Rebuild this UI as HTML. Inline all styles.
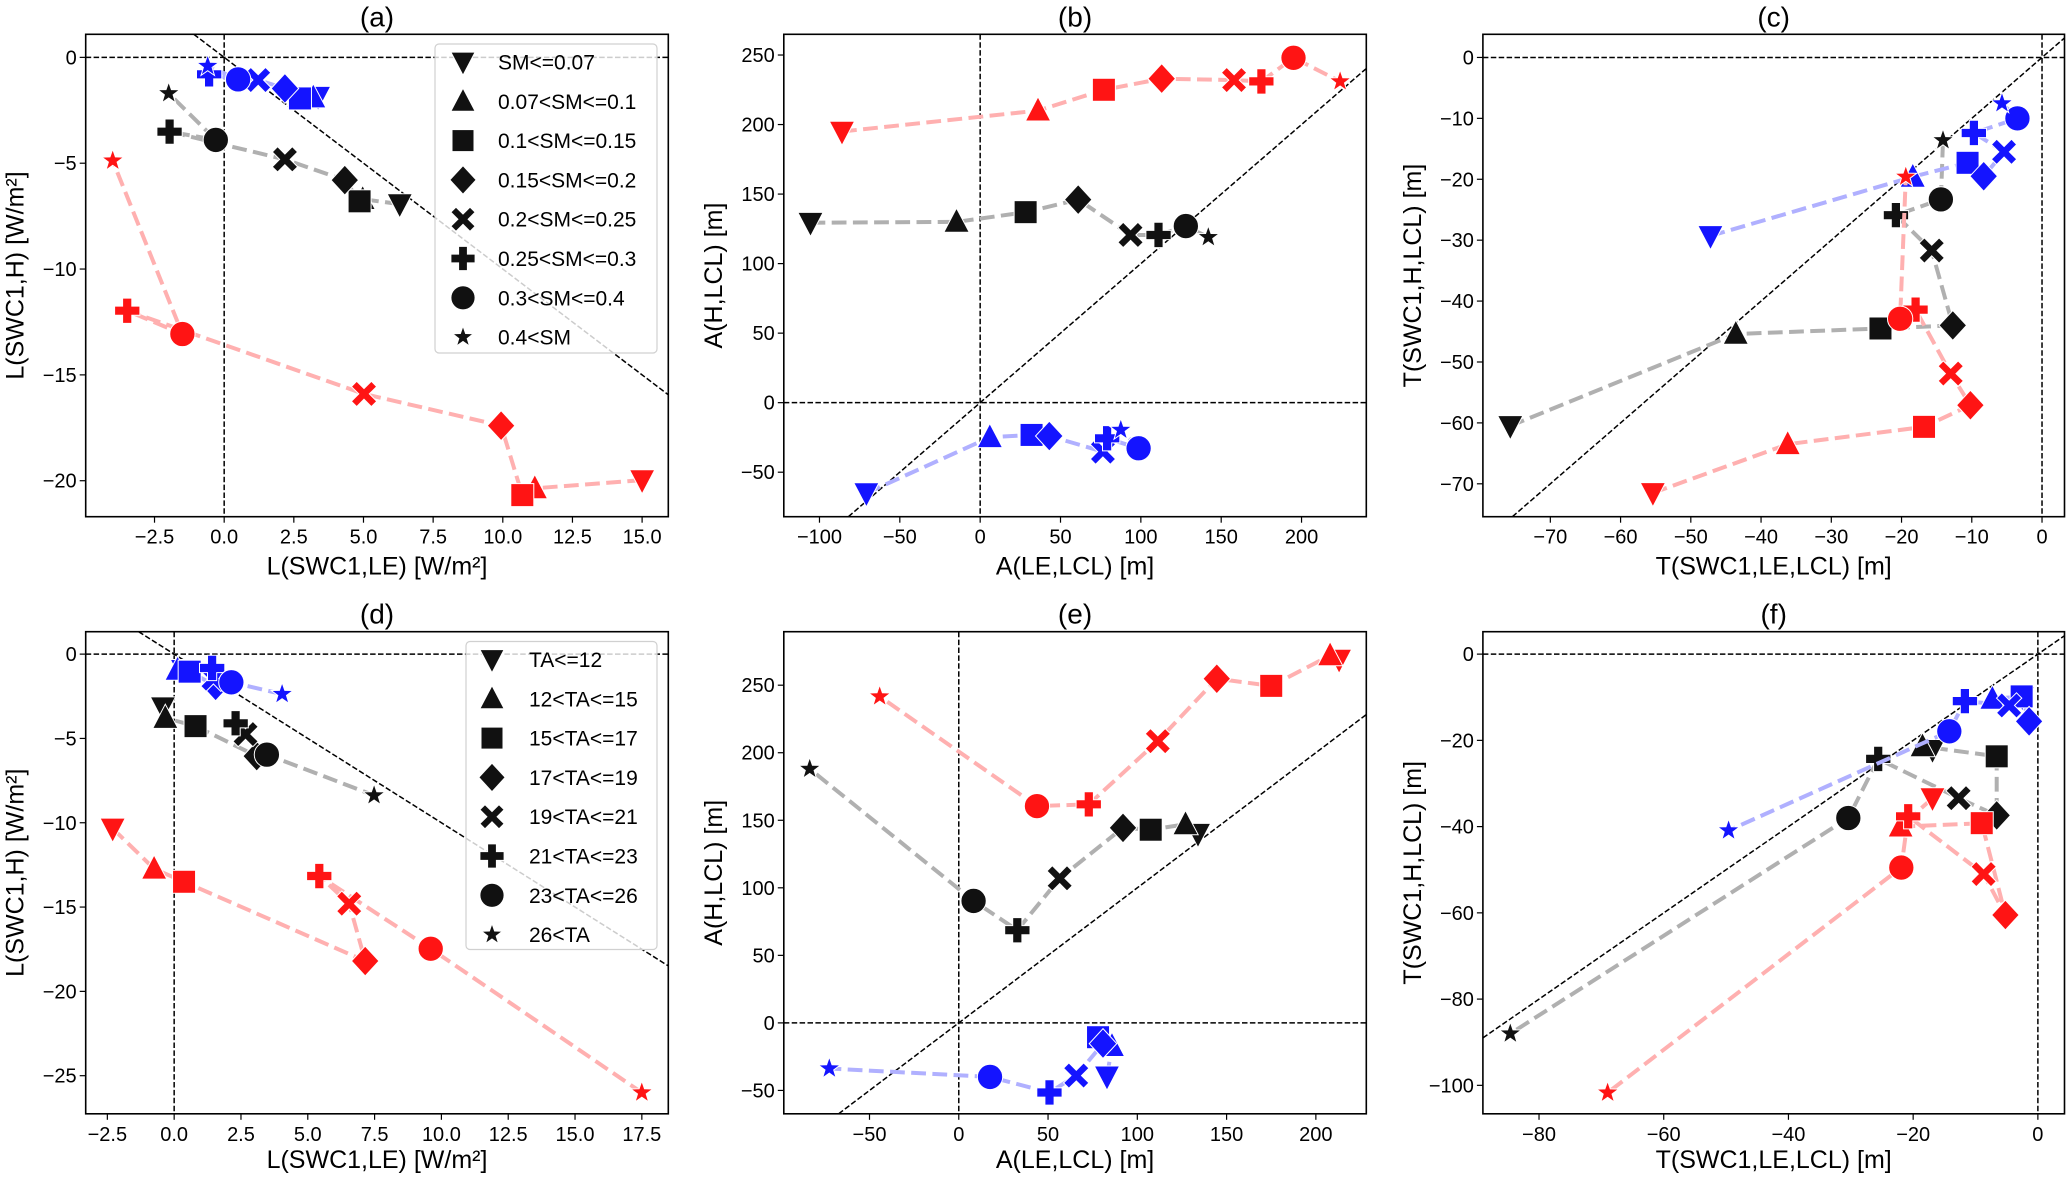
<!DOCTYPE html>
<html><head><meta charset="utf-8">
<style>
html,body{margin:0;padding:0;background:#fff;width:2067px;height:1179px;overflow:hidden;}
svg{display:block;font-family:"Liberation Sans","DejaVu Sans",sans-serif;}
</style></head>
<body>
<svg id="fig" width="2067" height="1179" viewBox="0 0 2067 1179" xmlns="http://www.w3.org/2000/svg"></svg>
<script>
// ---------- data ----------
// marker order: v ^ s D X P o *
const markers = ['v','^','s','D','X','P','o','*'];
const smLabels = ['SM<=0.07','0.07<SM<=0.1','0.1<SM<=0.15','0.15<SM<=0.2','0.2<SM<=0.25','0.25<SM<=0.3','0.3<SM<=0.4','0.4<SM'];
const taLabels = ['TA<=12','12<TA<=15','15<TA<=17','17<TA<=19','19<TA<=21','21<TA<=23','23<TA<=26','26<TA'];

const aBlackX=[6.3,4.97,4.86,4.33,2.18,-1.96,-0.3,-1.99];
const aBlackY=[-6.93,-6.7,-6.8,-5.8,-4.82,-3.51,-3.9,-1.7];
const aBlueX=[3.37,3.2,2.72,2.18,1.22,-0.54,0.5,-0.59];
const aBlueY=[-1.86,-1.9,-1.94,-1.47,-1.07,-0.8,-1.04,-0.41];
const aRedX=[15.0,11.15,10.7,9.94,5.02,-3.48,-1.5,-4.0];
const aRedY=[-19.97,-20.36,-20.68,-17.4,-15.9,-11.97,-13.07,-4.88];

const bBlackX=[-105.6,-14.7,28.3,61,93.6,111,128,142];
const bBlackY=[129.4,130,137,146,120.6,120.6,127,119];
const bBlueX=[-70.8,6,32,43,76.4,79,98.6,87.5];
const bBlueY=[-65,-24.9,-23.2,-24,-35.2,-25.6,-32.8,-19.6];
const bRedX=[-86,36,77,113,158,175,195,224];
const bRedY=[195,210,225,233,232,231,248,231];

const cBlackX=[-75.7,-43.6,-23,-12.7,-15.7,-20.8,-14.4,-14.1];
const cBlackY=[-60.5,-45.4,-44.5,-44,-31.7,-25.9,-23.3,-13.6];
const cBlueX=[-47.2,-18.4,-10.6,-8.3,-5.4,-9.7,-3.5,-5.7];
const cBlueY=[-29.3,-19.6,-17.3,-19.5,-15.5,-12.4,-10.0,-7.55];
const cRedX=[-55.4,-36.2,-16.8,-10.2,-13,-18,-20.2,-19.4];
const cRedY=[-71.5,-63.5,-60.65,-57.1,-51.9,-41.4,-42.9,-19.6];

const dBlackX=[-0.42,-0.33,0.8,3.09,2.67,2.3,3.47,7.48];
const dBlackY=[-3.15,-3.79,-4.27,-6.05,-4.74,-4.1,-5.96,-8.38];
const dBlueX=[0.33,0.13,0.58,1.55,1.47,1.42,2.14,4.04];
const dBlueY=[-0.93,-0.93,-1.04,-1.88,-1.46,-0.82,-1.67,-2.37];
const dRedX=[-2.3,-0.75,0.37,7.15,6.55,5.43,9.6,17.5];
const dRedY=[-10.34,-12.73,-13.5,-18.2,-14.8,-13.16,-17.47,-26.0];

const eBlackX=[134,127,107.5,92,56.5,32.8,8.3,-83.5];
const eBlackY=[140,147,143,144.4,107,68.6,90.3,188];
const eBlueX=[83,85.8,78,80.8,65.8,50.8,17.5,-72.5];
const eBlueY=[-39.6,-17.2,-10.6,-15.3,-39,-51.5,-40,-33.8];
const eRedX=[213,208,175,144.5,111.5,72.8,43.8,-44.3];
const eRedY=[269,272,249.5,254.8,208.6,161.8,160.5,241.6];

const fBlackX=[-16.9,-18.5,-6.6,-6.6,-12.7,-25.6,-30.4,-84.6];
const fBlackY=[-22.2,-21.4,-23.7,-37.4,-33.4,-24.3,-38,-88];
const fBlueX=[-2.5,-7.3,-2.6,-1.4,-4.6,-11.7,-14.2,-49.6];
const fBlueY=[-10,-10.4,-9.8,-15.6,-11.9,-10.9,-17.9,-40.9];
const fRedX=[-16.9,-22,-9,-5.2,-8.7,-20.8,-21.9,-69];
const fRedY=[-33.4,-40,-39.2,-60.5,-51,-37.6,-49.5,-101.7];

const aXTicks=[-2.5,0,2.5,5,7.5,10,12.5,15];
const aYTicks=[0,-5,-10,-15,-20];
const bXTicks=[-100,-50,0,50,100,150,200];
const bYTicks=[-50,0,50,100,150,200,250];
const cXTicks=[-70,-60,-50,-40,-30,-20,-10,0];
const cYTicks=[0,-10,-20,-30,-40,-50,-60,-70];
const dXTicks=[-2.5,0,2.5,5,7.5,10,12.5,15,17.5];
const dYTicks=[0,-5,-10,-15,-20,-25];
const eXTicks=[-50,0,50,100,150,200];
const eYTicks=[-50,0,50,100,150,200,250];
const fXTicks=[-80,-60,-40,-20,0];
const fYTicks=[0,-20,-40,-60,-80,-100];

// ---------- layout ----------
const NS='http://www.w3.org/2000/svg';
const svg=document.getElementById('fig');
function el(tag,attrs,parent){const e=document.createElementNS(NS,tag);for(const k in attrs)e.setAttribute(k,attrs[k]);(parent||svg).appendChild(e);return e;}
const COLS=[[85.7,668.3],[783.8,1366.3],[1482.9,2064.5]];
const ROWS=[[34.3,516.7],[631.7,1113.8]];
const fmt1=v=>(v<0?'\u2212':'')+Math.abs(v).toFixed(1);
const fmt0=v=>(v<0?'\u2212':'')+Math.abs(v).toFixed(0);

const panels=[
 {id:'a',c:0,r:0,xlim:[-4.97,15.94],ylim:[-21.7,1.09],xt:aXTicks,yt:aYTicks,xf:fmt1,yf:fmt0,diag:-1,
  xl:'L(SWC1,LE) [W/m\u00b2]',yl:'L(SWC1,H) [W/m\u00b2]',
  s:[[aBlackX,aBlackY,'k'],[aBlueX,aBlueY,'b'],[aRedX,aRedY,'r']],leg:smLabels},
 {id:'b',c:1,r:0,xlim:[-122.2,240.3],ylim:[-82,264.9],xt:bXTicks,yt:bYTicks,xf:fmt0,yf:fmt0,diag:1,
  xl:'A(LE,LCL) [m]',yl:'A(H,LCL) [m]',
  s:[[bBlackX,bBlackY,'k'],[bBlueX,bBlueY,'b'],[bRedX,bRedY,'r']]},
 {id:'c',c:2,r:0,xlim:[-79.6,3.2],ylim:[-75.4,3.8],xt:cXTicks,yt:cYTicks,xf:fmt0,yf:fmt0,diag:1,
  xl:'T(SWC1,LE,LCL) [m]',yl:'T(SWC1,H,LCL) [m]',
  s:[[cBlackX,cBlackY,'k'],[cBlueX,cBlueY,'b'],[cRedX,cRedY,'r']]},
 {id:'d',c:0,r:1,xlim:[-3.31,18.49],ylim:[-27.26,1.33],xt:dXTicks,yt:dYTicks,xf:fmt1,yf:fmt0,diag:-1,
  xl:'L(SWC1,LE) [W/m\u00b2]',yl:'L(SWC1,H) [W/m\u00b2]',
  s:[[dBlackX,dBlackY,'k'],[dBlueX,dBlueY,'b'],[dRedX,dRedY,'r']],leg:taLabels},
 {id:'e',c:1,r:1,xlim:[-98,228.25],ylim:[-67.3,289.6],xt:eXTicks,yt:eYTicks,xf:fmt0,yf:fmt0,diag:1,
  xl:'A(LE,LCL) [m]',yl:'A(H,LCL) [m]',
  s:[[eBlackX,eBlackY,'k'],[eBlueX,eBlueY,'b'],[eRedX,eRedY,'r']]},
 {id:'f',c:2,r:1,xlim:[-89,4.27],ylim:[-106.6,5.2],xt:fXTicks,yt:fYTicks,xf:fmt0,yf:fmt0,diag:1,
  xl:'T(SWC1,LE,LCL) [m]',yl:'T(SWC1,H,LCL) [m]',
  s:[[fBlackX,fBlackY,'k'],[fBlueX,fBlueY,'b'],[fRedX,fRedY,'r']]}
];
const MCOL={k:'#111111',b:'#1414ff',r:'#ff1414'};
const LCOL={k:'#b0b0b0',b:'#b0b0ff',r:'#ffb0b0'};
const GNAME={k:'black',b:'blue',r:'red'};
const MS=1.15;

function drawMarker(g,m,cx,cy,col,sc){
  sc=sc||1;let e;
  const st={fill:col,stroke:'#fff','stroke-width':1};
  const P=pts=>pts.map(p=>(cx+p[0]*sc).toFixed(1)+','+(cy+p[1]*sc).toFixed(1)).join(' ');
  if(m==='v') e=el('polygon',Object.assign({points:P([[-11,-9],[11,-9],[0,12]])},st),g);
  else if(m==='^') e=el('polygon',Object.assign({points:P([[-11,9],[11,9],[0,-12]])},st),g);
  else if(m==='s') e=el('rect',Object.assign({x:cx-10*sc,y:cy-10*sc,width:20*sc,height:20*sc},st),g);
  else if(m==='D') e=el('polygon',Object.assign({points:P([[0,-13],[12,0],[0,13],[-12,0]])},st),g);
  else if(m==='X'){const a=11,t=4.6;e=el('polygon',Object.assign({points:P([[-a,-a+t],[-a+t,-a],[0,-t],[a-t,-a],[a,-a+t],[t,0],[a,a-t],[a-t,a],[0,t],[-a+t,a],[-a,a-t],[-t,0]])},st),g);}
  else if(m==='P'){const a=11,t=4;e=el('polygon',Object.assign({points:P([[-t,-a],[t,-a],[t,-t],[a,-t],[a,t],[t,t],[t,a],[-t,a],[-t,t],[-a,t],[-a,-t],[-t,-t]])},st),g);}
  else if(m==='o') e=el('circle',Object.assign({cx:cx,cy:cy,r:11*sc},st),g);
  else if(m==='*'){const pts=[];for(let i=0;i<10;i++){const r=i%2?4:10,an=-Math.PI/2+i*Math.PI/5;pts.push([r*Math.cos(an),r*Math.sin(an)]);}e=el('polygon',Object.assign({points:P(pts)},st),g);}
  return e;
}

panels.forEach(p=>{
  const [x0,x1]=COLS[p.c],[y0,y1]=ROWS[p.r];
  const sx=v=>x0+(v-p.xlim[0])/(p.xlim[1]-p.xlim[0])*(x1-x0);
  const sy=v=>y1-(v-p.ylim[0])/(p.ylim[1]-p.ylim[0])*(y1-y0);
  const g=el('g',{});
  
  
  const clip=el('clipPath',{id:'clip-'+p.id},g);
  el('rect',{x:x0,y:y0,width:x1-x0,height:y1-y0},clip);
  const t=el('text',{x:(x0+x1)/2,y:y0-8,'text-anchor':'middle','font-size':28,fill:'#000'},g);
  t.textContent='('+p.id+')';
  
  
  const rg=el('g',{'clip-path':'url(#clip-'+p.id+')',stroke:'#000','stroke-width':1.5,'stroke-dasharray':'5.5 2.4',fill:'none'},g);
  
  
  el('line',{x1:x0,x2:x1,y1:sy(0),y2:sy(0)},rg);
  el('line',{x1:sx(0),x2:sx(0),y1:y0,y2:y1},rg);
  let lo,hi;
  if(p.diag>0){lo=Math.max(p.xlim[0],p.ylim[0]);hi=Math.min(p.xlim[1],p.ylim[1]);}
  else{lo=Math.max(p.xlim[0],-p.ylim[1]);hi=Math.min(p.xlim[1],-p.ylim[0]);}
  el('line',{x1:sx(lo),y1:sy(lo*p.diag),x2:sx(hi),y2:sy(hi*p.diag)},rg);
  const dg=el('g',{'clip-path':'url(#clip-'+p.id+')'},g);
  p.s.forEach(s=>{
    const [X,Y,c]=s;
    const sg=el('g',{},dg);
    
    
    const d=X.map((v,i)=>(i?'L':'M')+sx(v).toFixed(1)+' '+sy(Y[i]).toFixed(1)).join(' ');
    const ln=el('path',{d:d,fill:'none',stroke:LCOL[c],'stroke-width':4,'stroke-dasharray':'14.8 6.4'},sg);
    
    
    X.forEach((v,i)=>{
      const mk=drawMarker(sg,markers[i],sx(v),sy(Y[i]),MCOL[c],MS);
      
      
    });
  });
  const fr=el('rect',{x:x0,y:y0,width:x1-x0,height:y1-y0,fill:'none',stroke:'#000','stroke-width':1.6},g);
  
  
  const xg=el('g',{'font-size':20,fill:'#000'},g);
  
  
  p.xt.forEach(v=>{
    const X=sx(v);
    el('line',{x1:X,x2:X,y1:y1,y2:y1+6,stroke:'#000','stroke-width':1.2},xg);
    const tx=el('text',{x:X,y:y1+27,'text-anchor':'middle'},xg);tx.textContent=p.xf(v);
    
    
  });
  const yg=el('g',{'font-size':20,fill:'#000'},g);
  
  
  p.yt.forEach(v=>{
    const Y=sy(v);
    el('line',{x1:x0-6,x2:x0,y1:Y,y2:Y,stroke:'#000','stroke-width':1.2},yg);
    const ty=el('text',{x:x0-9,y:Y+7,'text-anchor':'end'},yg);ty.textContent=p.yf(v);
    
    
  });
  const xl=el('text',{x:(x0+x1)/2,y:y1+(p.r===1?54:58),'text-anchor':'middle','font-size':25,fill:'#000'},g);
  xl.textContent=p.xl;
  
  
  const yc=(y0+y1)/2,xc=x0-62;
  const yl=el('text',{x:xc,y:yc,'text-anchor':'middle','font-size':25,fill:'#000',transform:'rotate(-90 '+xc+' '+yc+')'},g);
  yl.textContent=p.yl;
  
  
  if(p.leg){
    const lg=el('g',{},g);
    
    
    const top=p.r===0?44:641.5, h=p.r===0?309:308;
    const lx=p.r===0?435:466, lw=657-lx;
    el('rect',{x:lx,y:top,width:lw,height:h,rx:4,fill:'#fff','fill-opacity':0.8,stroke:'#d0d0d0','stroke-width':1.2},lg);
    const mx=p.r===0?463:492, tx=p.r===0?498:529;
    p.leg.forEach((lab,i)=>{
      const cy=top+18+i*39.3;
      const eg=el('g',{},lg);
      
      
      drawMarker(eg,markers[i],mx,cy,'#111111',1.1);
      const tt=el('text',{x:tx,y:cy+7.5,'font-size':21,fill:'#000'},eg);
      tt.textContent=lab;
    });
  }
});
</script>
</body></html>
